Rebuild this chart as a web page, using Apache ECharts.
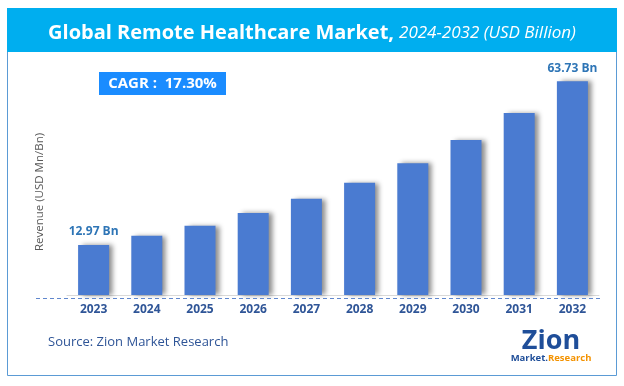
<!DOCTYPE html>
<html>
<head>
<meta charset="utf-8">
<script src="https://cdn.jsdelivr.net/npm/echarts@6/dist/echarts.min.js"></script>
<style>
html,body{margin:0;padding:0;background:#fff;}
#c{width:624px;height:386px;}
</style>
</head>
<body>
<div id="c"></div>
<script>
const categories = ['2023','2024','2025','2026','2027','2028','2029','2030','2031','2032'];
const values = [12.97, 15.85, 18.94, 22.87, 27.30, 32.25, 38.35, 45.56, 53.92, 63.73];
const labelledIdx = [0, 9];
const titleMain = 'Global Remote Healthcare Market,';
const titleSub = '2024-2032 (USD Billion)';
const cagrText = 'CAGR :  17.30%';
const yName = 'Revenue (USD Mn/Bn)';
const sourceText = 'Source: Zion Market Research';

const chart = echarts.init(document.getElementById('c'), null, {renderer: 'canvas'});
const FONT = 'Open Sans';

chart.setOption({
  animation: false,
  backgroundColor: '#fff',
  grid: {left: 67, right: 25, top: 61, bottom: 91, containLabel: false},
  title: {
    text: '{b|' + titleMain + '} {i|' + titleSub + '}',
    left: 'center', top: 18,
    textStyle: {
      rich: {
        b: {fontFamily: FONT, fontWeight: 'bold', fontSize: 20, color: '#fff'},
        i: {fontFamily: FONT, fontStyle: 'italic', fontWeight: 'normal', fontSize: 17, color: '#fff'}
      }
    },
    z: 10
  },
  xAxis: {
    type: 'category',
    data: categories,
    axisLine: {show: true, onZero: false, lineStyle: {color: '#d9d9d9', width: 1}},
    axisTick: {show: false},
    axisLabel: {color: '#2F5597', fontFamily: FONT, fontWeight: 'bold', fontSize: 12, margin: 9}
  },
  yAxis: {
    type: 'value',
    min: -2.5, max: 70,
    startValue: -2.5,
    axisLine: {show: false},
    axisTick: {show: false},
    axisLabel: {show: false},
    splitLine: {show: false}
  },
  series: [{
    type: 'bar',
    data: values.map((v, i) => ({
      value: v,
      label: {show: labelledIdx.indexOf(i) >= 0}
    })),
    barWidth: 31,
    itemStyle: {
      color: '#4A7BD1',
      shadowColor: 'rgba(0,0,0,0.45)',
      shadowBlur: 5,
      shadowOffsetX: 4,
      shadowOffsetY: 0
    },
    label: {
      position: 'top',
      distance: 7,
      formatter: p => p.value.toFixed(2) + ' Bn',
      color: '#2E75B6',
      fontFamily: FONT,
      fontWeight: 'bold',
      fontSize: 12
    }
  }],
  graphic: [
    {type: 'rect', shape: {x: 7.5, y: 8.5, width: 609, height: 367}, style: {fill: 'none', stroke: '#5B9BD5', lineWidth: 1}, z: 1},
    {type: 'rect', shape: {x: 7, y: 8, width: 610, height: 44}, style: {fill: '#00AEEF'}, z: 2},
    {type: 'line', shape: {x1: 36, y1: 298.5, x2: 602, y2: 298.5}, style: {stroke: '#4472C4', lineWidth: 1, lineDash: [4, 3], opacity: 0.85}, z: 3},
    {type: 'text', x: 40, y: 192, rotation: Math.PI / 2, style: {text: yName, fill: '#595959', font: '11.5px "Open Sans"', align: 'center', verticalAlign: 'middle'}, z: 4},
    {type: 'rect', shape: {x: 99, y: 72, width: 127, height: 23}, style: {fill: '#1A8CFF'}, z: 3},
    {type: 'text', x: 162.5, y: 83.5, style: {text: cagrText, fill: '#fff', font: 'bold 15px "Open Sans"', align: 'center', verticalAlign: 'middle'}, z: 4},
    {type: 'text', x: 48, y: 342, style: {text: sourceText, fill: '#2F5597', font: '13px "Open Sans"', align: 'left', verticalAlign: 'middle'}, z: 4},
    {type: 'text', x: 551, y: 341, style: {text: 'Zion', fill: '#1F4E99', font: 'bold 27px "Open Sans"', align: 'center', verticalAlign: 'middle'}, z: 4},
    {type: 'text', x: 551, y: 358, style: {
      text: '{a|Market.}{b|Research}',
      rich: {
        a: {fill: '#1F4E99', font: 'bold 9.5px "Open Sans"'},
        b: {fill: '#F39200', font: 'bold 9.5px "Open Sans"'}
      },
      align: 'center', verticalAlign: 'middle'}, z: 4}
  ]
});
</script>
</body>
</html>
